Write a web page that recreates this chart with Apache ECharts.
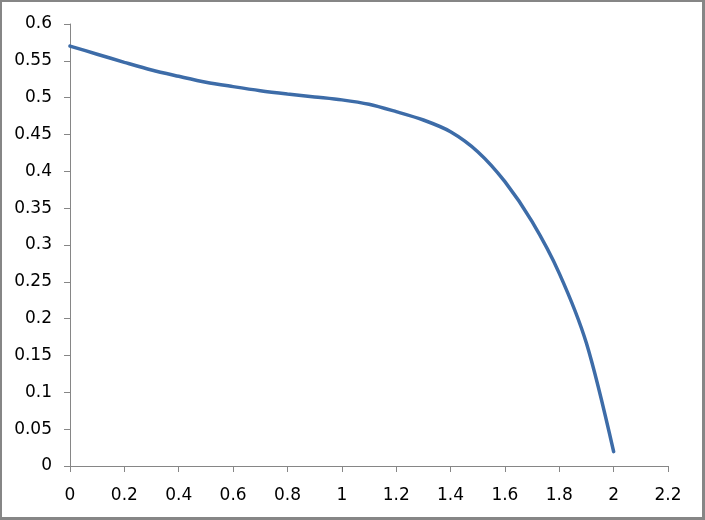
<!DOCTYPE html>
<html>
<head>
<meta charset="utf-8">
<script src="https://cdn.jsdelivr.net/npm/echarts@6/dist/echarts.min.js"></script>
<style>
  html, body { margin: 0; padding: 0; background: #fff; }
  #wrap {
    width: 705px; height: 520px; box-sizing: border-box;
    border-style: solid; border-color: #868686;
    border-width: 2px 3px 3px 2px; background: #fff;
  }
  #chart { width: 700px; height: 515px; }
</style>
</head>
<body>
<div id="wrap"><div id="chart"></div></div>
<script>
// values
var xs = [0, 0.1, 0.2, 0.3, 0.4, 0.5, 0.6, 0.7, 0.8, 0.9, 1.0, 1.1, 1.2, 1.3, 1.4, 1.5, 1.6, 1.7, 1.8, 1.9, 2.0];
var ys = [0.570, 0.559, 0.548, 0.5375, 0.529, 0.521, 0.515, 0.5095, 0.505, 0.501, 0.497, 0.491, 0.481, 0.4697, 0.4538, 0.4267, 0.386, 0.3316, 0.2615, 0.1665, 0.0195];

var points = [];
for (var i = 0; i < xs.length; i++) {
  points.push([xs[i], ys[i]]);
}

var chart = echarts.init(document.getElementById("chart"));
var axisColor = "#868686";
var font = "DejaVu Sans";

var option = {
  animation: false,
  backgroundColor: "#fff",
  grid: {
    left: 68,
    right: 34,
    top: 22,
    bottom: 51,
  },
  xAxis: {
    type: "value",
    min: 0,
    max: 2.2,
    interval: 0.2,
    axisLine: { show: true, lineStyle: { color: axisColor, width: 1 } },
    axisTick: { show: true, length: 6, lineStyle: { color: axisColor } },
    splitLine: { show: false },
    axisLabel: {
      color: "#000",
      fontSize: 17,
      fontFamily: font,
      margin: 21,
      formatter: function (v) { return String(Math.round(v * 10) / 10); },
    },
  },
  yAxis: {
    type: "value",
    min: 0,
    max: 0.6,
    interval: 0.05,
    axisLine: { show: true, lineStyle: { color: axisColor, width: 1 } },
    axisTick: { show: true, length: 6, lineStyle: { color: axisColor } },
    splitLine: { show: false },
    axisLabel: {
      color: "#000",
      fontSize: 17,
      fontFamily: font,
      margin: 18,
      formatter: function (v) { return String(Math.round(v * 100) / 100); },
    },
  },
  series: [
    {
      type: "line",
      data: points,
      smooth: 0.3,
      symbol: "none",
      lineStyle: { color: "#3d6ca8", width: 3.5, cap: "round" },
    },
  ],
};
chart.setOption(option);
</script>
</body>
</html>
